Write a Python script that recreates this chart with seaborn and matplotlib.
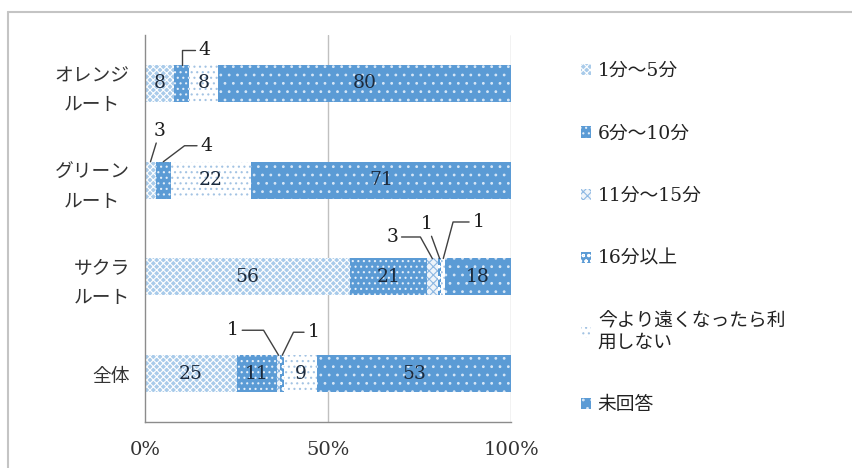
import matplotlib
matplotlib.use("Agg")
import matplotlib.pyplot as plt
from matplotlib.patches import Patch
from matplotlib.lines import Line2D
import numpy as np
import pandas as pd
import seaborn as sns

# ---- data -------------------------------------------------------------
routes = ["オレンジ\nルート", "グリーン\nルート", "サクラ\nルート", "全体"]
series = ["1分～5分", "6分～10分", "11分～15分", "16分以上",
          "今より遠くなったら利\n用しない", "未回答"]

share_1_5 = [8, 3, 56, 25]
share_6_10 = [4, 4, 21, 11]
share_11_15 = [0, 0, 3, 1]
share_16_plus = [0, 0, 1, 1]
share_wont_use = [8, 22, 1, 9]
share_no_answer = [80, 71, 18, 53]

x_ticks = [0, 50, 100]
x_tick_labels = ["0%", "50%", "100%"]

values = pd.DataFrame(
    [share_1_5, share_6_10, share_11_15, share_16_plus, share_wont_use, share_no_answer],
    index=series, columns=routes,
).T
cumulative = values.cumsum(axis=1)

# ---- styles -----------------------------------------------------------
# (face colour, hatch, hatch colour) for each answer
styles = [
    ("#a9cbea", "xxxxx", "#ffffff"),
    ("#5b9bd5", "...", "#e3eef9"),
    ("#eef4fa", "xxxx", "#8db8e3"),
    ("#5b9bd5", "ooo", "#ffffff"),
    ("#ffffff", "...", "#a3c3e3"),
    ("#5b9bd5", "..", "#d6e6f6"),
]

# small shares are labelled outside the bar with a leader line:
# (route, answer) -> (dx px, dy px, angle of the segment reaching the bar)
callouts = {
    (0, 1): (23, 15, 90),
    (1, 0): (9.5, 31, None),
    (1, 1): (43, 16, 37),
    (2, 2): (-40, 21.5, -61),
    (2, 3): (-12.6, 34.5, None),
    (2, 4): (35, 36.5, 75),
    (3, 2): (-45.6, 25, -59),
    (3, 3): (31, 23, 64),
}

sns.set_style("white")
plt.rcParams["font.family"] = ["Noto Sans CJK JP", "DejaVu Sans"]
plt.rcParams["hatch.linewidth"] = 0.8

num_font = ["DejaVu Serif", "Noto Sans CJK JP"]
bar_width = 0.38

fig = plt.figure(figsize=(8.53, 4.68), dpi=100)
ax = fig.add_axes([145 / 853, 1 - 422 / 468, 366 / 853, 387 / 468])

# stacked bars: draw cumulative totals from the last answer backwards
for k in range(len(series) - 1, -1, -1):
    face, hatch, hcol = styles[k]
    sns.barplot(x=cumulative.iloc[:, k].values, y=routes, orient="h",
                color=face, saturation=1, width=bar_width, ax=ax)
    for p in ax.containers[-1]:
        p.set_facecolor(face)
        p.set_hatch(hatch)
        p.set_edgecolor(hcol)
        p.set_linewidth(0)

ax.set_xlim(0, 100)
ax.set_ylim(3.5, -0.5)
ax.set_xlabel("")
ax.set_ylabel("")

# grid / spines
for x in [50, 100]:
    ax.axvline(x, color="#c0c0c0", lw=1, zorder=0)
for s in ["top", "right"]:
    ax.spines[s].set_visible(False)
for s in ["left", "bottom"]:
    ax.spines[s].set_color("#8c8c8c")
    ax.spines[s].set_linewidth(1)
ax.set_axisbelow(True)

ax.set_xticks(x_ticks)
ax.set_xticklabels(x_tick_labels, fontfamily=num_font, fontsize=14, color="#333333")
ax.tick_params(axis="x", direction="out", length=6, width=1, color="#8c8c8c", pad=8)

ax.set_yticks(range(len(routes)))
ax.set_yticklabels(routes, fontsize=13.5, color="#333333", linespacing=1.5)
ax.set_yticks(np.arange(-0.5, len(routes), 1), minor=True)
ax.tick_params(axis="y", which="major", length=0, pad=11)
ax.tick_params(axis="y", which="minor", direction="out", length=6, width=1, color="#8c8c8c")
for lab in ax.get_yticklabels():
    lab.set_multialignment("center")

# value labels
for i, route in enumerate(routes):
    left = 0
    for k, s in enumerate(series):
        v = values.loc[route, s]
        if v > 0:
            cx = left + v / 2
            if (i, k) in callouts:
                dx, dy, ang = callouts[(i, k)]
                cs = "arc3,rad=0" if ang is None else f"angle,angleA=0,angleB={ang},rad=0"
                ax.annotate(str(v), xy=(cx, i - bar_width / 2), xytext=(dx, dy),
                            textcoords="offset pixels", ha="center", va="center",
                            fontsize=13.5, fontfamily=num_font, color="#1c1c1c",
                            annotation_clip=False,
                            arrowprops=dict(arrowstyle="-", color="#404040", lw=1,
                                            connectionstyle=cs, shrinkA=0, shrinkB=0))
            else:
                ax.text(cx, i, str(v), ha="center", va="center", fontsize=13.5,
                        fontfamily=num_font, color="#1c2a3c")
        left += v

# legend
handles = [Patch(facecolor=f, hatch=h, edgecolor=c, linewidth=0) for f, h, c in styles]
leg = fig.legend(handles, series, loc="upper left",
                 bbox_to_anchor=(581 / 853, 1 - 62 / 468), bbox_transform=fig.transFigure,
                 frameon=False, fontsize=13.5, handlelength=0.55, handleheight=0.55,
                 handletextpad=0.35, labelspacing=2.38, borderpad=0, borderaxespad=0)
for t in leg.get_texts():
    t.set_fontfamily(num_font)
    t.set_color("#222222")

# outer frame
fig.add_artist(Line2D([8 / 853, 1], [1 - 12 / 468] * 2, color="#c4c4c4", lw=1.5,
                      transform=fig.transFigure))
fig.add_artist(Line2D([8 / 853] * 2, [0, 1 - 12 / 468], color="#c4c4c4", lw=1.5,
                      transform=fig.transFigure))

fig.savefig("out.png", dpi=100, facecolor="white")
